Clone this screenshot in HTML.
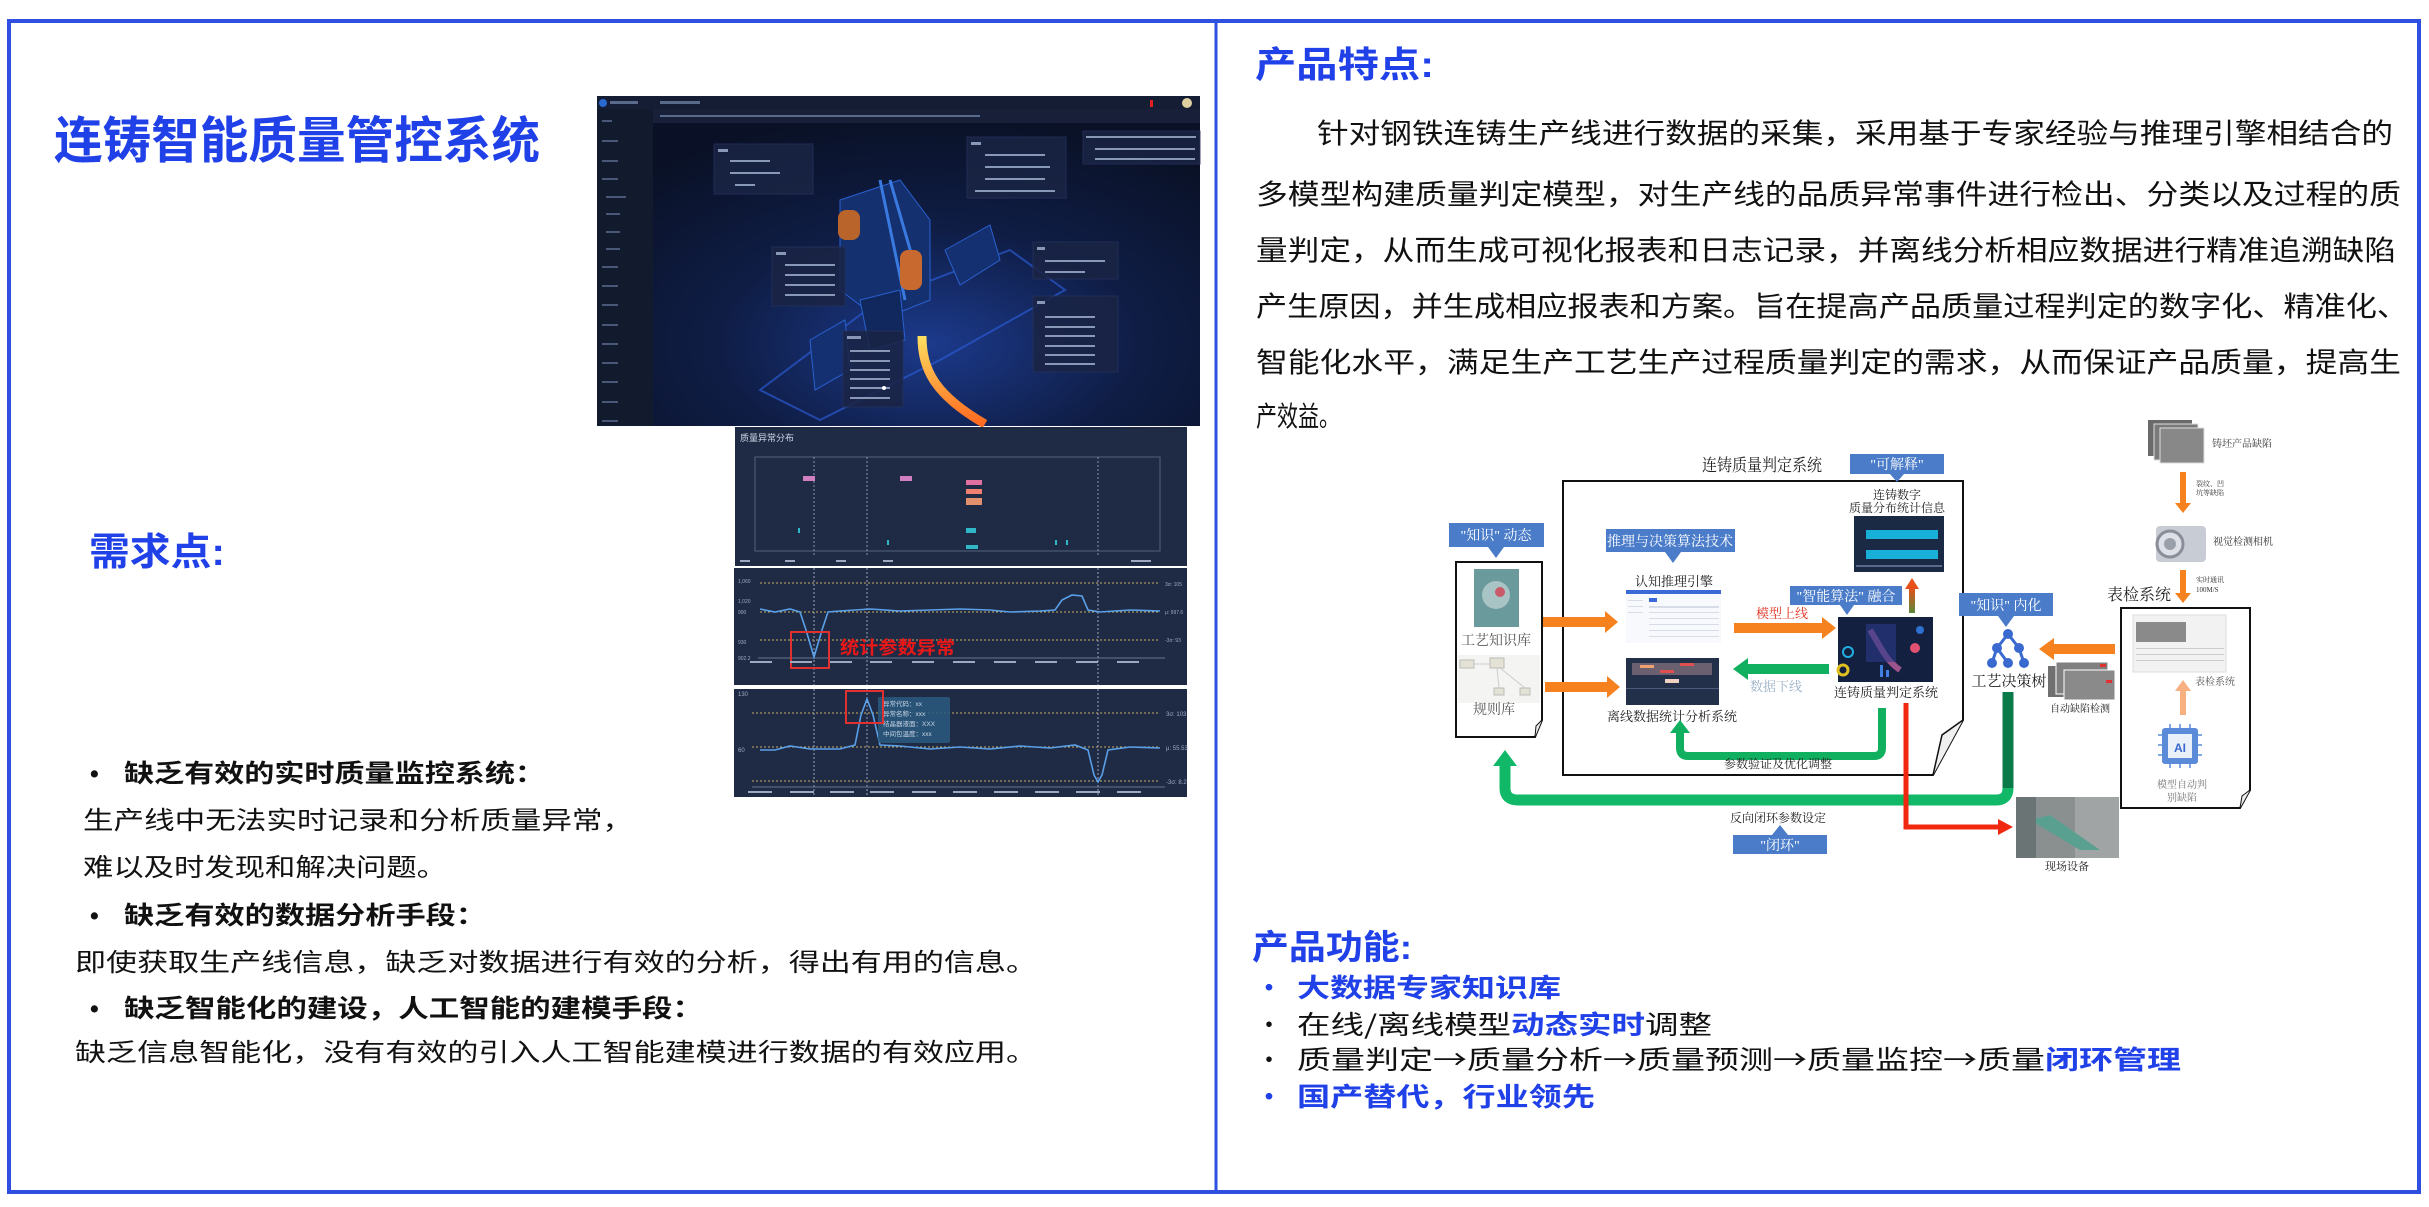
<!DOCTYPE html>
<html><head><meta charset="utf-8">
<style>
html,body{margin:0;padding:0;background:#fff;}
body{width:2429px;height:1207px;overflow:hidden;}
svg{display:block;}
.cn{font-family:"Liberation Sans","Noto Sans CJK SC",sans-serif;}
.sf{font-family:"Liberation Serif","Noto Serif CJK SC",serif;}
.cjk{font-family:"Noto Sans CJK SC",sans-serif;}
</style></head><body>
<svg width="2429" height="1207" viewBox="0 0 2429 1207" xmlns="http://www.w3.org/2000/svg">
<defs>
 <radialGradient id="dbg" cx="0.55" cy="0.75" r="0.7">
  <stop offset="0" stop-color="#1c3a8c"/><stop offset="0.5" stop-color="#0f1d45"/><stop offset="1" stop-color="#0a1126"/>
 </radialGradient>
 <linearGradient id="strand" x1="0" y1="0" x2="0" y2="1"><stop offset="0" stop-color="#ffe060"/><stop offset="1" stop-color="#ff6a20"/></linearGradient>
 <linearGradient id="upar" x1="0" y1="1" x2="0" y2="0"><stop offset="0" stop-color="#5a8a3a"/><stop offset="1" stop-color="#e8501a"/></linearGradient>
</defs>

<rect x="9" y="21" width="2410" height="1171" fill="none" stroke="#2f4fe0" stroke-width="4"/>
<line x1="1216" y1="21" x2="1216" y2="1192" stroke="#2f4fe0" stroke-width="3"/>

<text class="cn" x="54" y="158" font-size="50" font-weight="bold" fill="#2040e8" textLength="486" lengthAdjust="spacingAndGlyphs">连铸智能质量管控系统</text>

<g>
 <rect x="597" y="96" width="603" height="330" fill="url(#dbg)"/>
 <rect x="597" y="96" width="56" height="330" fill="#121a2e"/>
 <rect x="597" y="96" width="603" height="13" fill="#141d33"/>
 <rect x="653" y="109" width="547" height="14" fill="#172038"/>
 <circle cx="603" cy="103" r="4" fill="#2a6ad0"/>
 <g fill="#5a6a8a">
  <rect x="610" y="101" width="28" height="3"/>
  <rect x="660" y="101" width="40" height="3"/>
  <rect x="660" y="115" width="320" height="2"/>
 </g>
 <rect x="1150" y="100" width="3" height="7" fill="#e02020"/>
 <circle cx="1187" cy="103" r="5" fill="#e0d0a0"/>
 <g fill="#4a5878">
  <rect x="602" y="120" width="10" height="2"/><rect x="602" y="140" width="16" height="2"/><rect x="602" y="160" width="16" height="2"/>
  <rect x="602" y="178" width="16" height="2"/><rect x="606" y="196" width="20" height="2"/><rect x="606" y="213" width="14" height="2"/>
  <rect x="606" y="231" width="14" height="2"/><rect x="606" y="248" width="14" height="2"/><rect x="602" y="266" width="16" height="2"/>
  <rect x="602" y="285" width="16" height="2"/><rect x="602" y="304" width="16" height="2"/><rect x="602" y="324" width="16" height="2"/>
  <rect x="602" y="343" width="16" height="2"/><rect x="602" y="362" width="16" height="2"/><rect x="602" y="381" width="16" height="2"/>
  <rect x="602" y="401" width="16" height="2"/><rect x="602" y="420" width="16" height="2"/>
 </g>
 <polygon points="760,390 880,300 1010,250 1065,290 940,360 820,420" fill="none" stroke="#2a5ad0" stroke-width="2" opacity="0.7"/>
 <polygon points="840,200 900,180 930,220 930,300 880,320 840,290" fill="#14306e" stroke="#2a60d0"/>
 <polygon points="860,300 900,290 905,340 870,350" fill="#10285e" stroke="#2a60d0"/>
 <line x1="880" y1="180" x2="905" y2="300" stroke="#3a7ae0" stroke-width="3"/>
 <line x1="890" y1="180" x2="916" y2="270" stroke="#3a7ae0" stroke-width="3"/>
 <rect x="838" y="210" width="22" height="30" rx="8" fill="#b8642a"/>
 <rect x="900" y="250" width="22" height="40" rx="8" fill="#c86a30"/>
 <polygon points="945,250 990,225 1000,260 960,285" fill="#143070" stroke="#2a60d0"/>
 <polygon points="810,340 845,320 850,370 815,390" fill="#143070" stroke="#2a60d0"/>
 <path d="M922,336 C922,370 935,395 985,424" fill="none" stroke="url(#strand)" stroke-width="9"/>
 <g fill="#1a2444" opacity="0.85" stroke="#24305a">
  <rect x="714" y="144" width="99" height="50"/>
  <rect x="967" y="137" width="99" height="61"/>
  <rect x="1083" y="131" width="117" height="33"/>
  <rect x="772" y="247" width="73" height="59"/>
  <rect x="1033" y="242" width="85" height="37"/>
  <rect x="1033" y="296" width="85" height="76"/>
  <rect x="843" y="331" width="60" height="76"/>
 </g>
 <g fill="#8a98b8">
  <rect x="718" y="149" width="10" height="3"/><rect x="730" y="160" width="40" height="2"/><rect x="730" y="172" width="50" height="2"/><rect x="735" y="184" width="20" height="2"/>
  <rect x="971" y="142" width="10" height="3"/><rect x="985" y="154" width="60" height="2"/><rect x="985" y="166" width="65" height="2"/><rect x="985" y="178" width="60" height="2"/><rect x="975" y="190" width="80" height="2"/>
  <rect x="1086" y="136" width="110" height="2"/><rect x="1095" y="148" width="100" height="2"/><rect x="1095" y="158" width="100" height="2"/>
  <rect x="776" y="252" width="10" height="3"/><rect x="785" y="264" width="50" height="2"/><rect x="785" y="274" width="50" height="2"/><rect x="785" y="284" width="50" height="2"/><rect x="785" y="294" width="50" height="2"/>
  <rect x="1037" y="247" width="8" height="3"/><rect x="1045" y="260" width="60" height="2"/><rect x="1045" y="271" width="40" height="2"/>
  <rect x="1037" y="301" width="8" height="3"/><rect x="1045" y="316" width="50" height="2"/><rect x="1045" y="326" width="50" height="2"/><rect x="1045" y="335" width="50" height="2"/><rect x="1045" y="345" width="50" height="2"/><rect x="1045" y="354" width="50" height="2"/><rect x="1045" y="363" width="50" height="2"/>
  <rect x="847" y="336" width="14" height="3"/><rect x="850" y="350" width="40" height="2"/><rect x="850" y="360" width="40" height="2"/><rect x="850" y="369" width="40" height="2"/><rect x="850" y="378" width="40" height="2"/><rect x="850" y="387" width="40" height="2"/><rect x="850" y="397" width="40" height="2"/>
 </g>
 <circle cx="884" cy="388" r="2" fill="#fff"/>
</g>

<g>
 <rect x="735" y="427" width="452" height="139" fill="#1f2a44"/>
 <text class="cn" x="740" y="441" font-size="9" fill="#d0d8e8">质量异常分布</text>
 <rect x="755" y="457" width="405" height="94" fill="none" stroke="#55617d"/>
 <g stroke="#8a94aa" stroke-dasharray="2,2"><line x1="814" y1="457" x2="814" y2="556"/><line x1="867" y1="457" x2="867" y2="556"/><line x1="1098" y1="457" x2="1098" y2="556"/></g>
 <rect x="803" y="476" width="12" height="5" fill="#d080c0"/>
 <rect x="900" y="476" width="12" height="5" fill="#d080c0"/>
 <rect x="966" y="480" width="16" height="5" fill="#e070a0"/>
 <rect x="966" y="489" width="16" height="5" fill="#f08070"/>
 <rect x="966" y="498" width="16" height="7" fill="#e0906a"/>
 <g fill="#30b8c8"><rect x="798" y="528" width="2" height="5"/><rect x="966" y="528" width="10" height="5"/><rect x="966" y="545" width="12" height="4"/><rect x="887" y="540" width="2" height="5"/><rect x="1055" y="540" width="2" height="5"/><rect x="1066" y="540" width="2" height="5"/></g>
 <g fill="#a0a8c0"><rect x="740" y="560" width="10" height="2"/><rect x="785" y="560" width="10" height="2"/><rect x="836" y="560" width="10" height="2"/><rect x="883" y="560" width="10" height="2"/><rect x="1131" y="560" width="20" height="2"/></g>
</g>

<g>
 <rect x="734" y="568" width="453" height="117" fill="#1f2a44"/>
 <g stroke="#c8b060" stroke-dasharray="2,2" stroke-width="1"><line x1="760" y1="583" x2="1160" y2="583"/><line x1="760" y1="612" x2="1160" y2="612"/><line x1="760" y1="640" x2="1160" y2="640"/></g>
 <g stroke="#9aa2b8" stroke-dasharray="2,2"><line x1="814" y1="568" x2="814" y2="685"/><line x1="867" y1="568" x2="867" y2="685"/><line x1="1098" y1="568" x2="1098" y2="685"/></g>
 <line x1="758" y1="658" x2="1165" y2="658" stroke="#6a7490"/>
 <polyline fill="none" stroke="#5aa0e8" stroke-width="1.6" points="760,609 775,612 790,609 800,612 806,630 814,657 822,630 828,612 840,611 870,609 900,611 930,610 960,609 990,610 1010,612 1040,611 1055,610 1062,600 1072,595 1082,596 1088,610 1100,612 1130,610 1160,611"/>
 <rect x="791" y="632" width="38" height="36" fill="none" stroke="#e03030" stroke-width="2"/>
 <text class="cjk" x="840" y="654" font-size="18" font-weight="bold" fill="#e81818" textLength="115" lengthAdjust="spacingAndGlyphs">统计参数异常</text>
 <g fill="#a0a8c0" font-size="5" class="cn"><text x="738" y="583">1,060</text><text x="738" y="603">1,020</text><text x="738" y="614">990</text><text x="738" y="644">930</text><text x="738" y="660">902.2</text><text x="1165" y="586">3σ: 105</text><text x="1165" y="614">μ: 997.6</text><text x="1165" y="642">-3σ: 93</text></g>
 <g fill="#a0a8c0"><rect x="750" y="661" width="22" height="2"/><rect x="790" y="661" width="22" height="2"/><rect x="830" y="661" width="22" height="2"/><rect x="870" y="661" width="22" height="2"/><rect x="912" y="661" width="22" height="2"/><rect x="953" y="661" width="22" height="2"/><rect x="994" y="661" width="22" height="2"/><rect x="1035" y="661" width="22" height="2"/><rect x="1076" y="661" width="22" height="2"/><rect x="1117" y="661" width="22" height="2"/></g>
</g>

<g>
 <rect x="734" y="689" width="453" height="108" fill="#1f2a44"/>
 <g stroke="#c8b060" stroke-dasharray="2,2"><line x1="752" y1="713" x2="1160" y2="713"/><line x1="752" y1="747" x2="1160" y2="747"/><line x1="752" y1="781" x2="1160" y2="781"/></g>
 <g stroke="#9aa2b8" stroke-dasharray="2,2"><line x1="814" y1="689" x2="814" y2="797"/><line x1="867" y1="689" x2="867" y2="797"/><line x1="1098" y1="689" x2="1098" y2="797"/></g>
 <line x1="752" y1="787" x2="1165" y2="787" stroke="#6a7490"/>
 <polyline fill="none" stroke="#5aa0e8" stroke-width="1.6" points="760,750 775,750 790,746 810,749 840,749 855,745 861,715 867,699 873,715 880,745 900,746 930,749 960,747 990,749 1020,746 1050,748 1075,745 1088,750 1094,775 1098,782 1102,775 1108,750 1130,747 1160,748"/>
 <rect x="878" y="697" width="72" height="46" rx="2" fill="#2a5a80" opacity="0.85"/>
 <g class="cn" font-size="6.5" fill="#c8d4e4"><text x="883" y="706">异常代码：xx</text><text x="883" y="716">异常名称：xxx</text><text x="883" y="726">结晶器液面：XXX</text><text x="883" y="736">中间包温度：xxx</text></g>
 <rect x="846" y="691" width="37" height="32" fill="none" stroke="#e03030" stroke-width="2"/>
 <g fill="#a0a8c0" font-size="6" class="cn"><text x="1166" y="716">3σ: 103</text><text x="1166" y="750">μ: 55.53</text><text x="1166" y="784">-3σ: 8.2</text><text x="738" y="696">130</text><text x="738" y="752">60</text></g>
 <g fill="#a0a8c0"><rect x="748" y="791" width="24" height="2"/><rect x="790" y="791" width="24" height="2"/><rect x="830" y="791" width="24" height="2"/><rect x="870" y="791" width="24" height="2"/><rect x="912" y="791" width="24" height="2"/><rect x="953" y="791" width="24" height="2"/><rect x="994" y="791" width="24" height="2"/><rect x="1035" y="791" width="24" height="2"/><rect x="1076" y="791" width="24" height="2"/><rect x="1117" y="791" width="24" height="2"/></g>
</g>

<text class="cn" x="89" y="565" font-size="38" font-weight="bold" fill="#2040e8" textLength="136" lengthAdjust="spacingAndGlyphs">需求点:</text>

<g class="cn" font-size="25" fill="#111">
 <text x="90" y="782" font-weight="bold">•</text>
 <text x="124" y="782" font-weight="bold" textLength="421" lengthAdjust="spacingAndGlyphs">缺乏有效的实时质量监控系统：</text>
 <text x="83" y="829" textLength="550" lengthAdjust="spacingAndGlyphs">生产线中无法实时记录和分析质量异常，</text>
 <text x="83" y="876" textLength="364" lengthAdjust="spacingAndGlyphs">难以及时发现和解决问题。</text>
 <text x="90" y="924" font-weight="bold">•</text>
 <text x="124" y="924" font-weight="bold" textLength="362" lengthAdjust="spacingAndGlyphs">缺乏有效的数据分析手段：</text>
 <text x="75" y="971" textLength="962" lengthAdjust="spacingAndGlyphs">即使获取生产线信息，缺乏对数据进行有效的分析，得出有用的信息。</text>
 <text x="90" y="1017" font-weight="bold">•</text>
 <text x="124" y="1017" font-weight="bold" textLength="579" lengthAdjust="spacingAndGlyphs">缺乏智能化的建设，人工智能的建模手段：</text>
 <text x="75" y="1061" textLength="962" lengthAdjust="spacingAndGlyphs">缺乏信息智能化，没有有效的引入人工智能建模进行数据的有效应用。</text>
</g>

<text class="cn" x="1255" y="77" font-size="36" font-weight="bold" fill="#2040e8" textLength="179" lengthAdjust="spacingAndGlyphs">产品特点:</text>
<g class="cn" font-size="28" fill="#111">
 <text x="1317" y="143" textLength="1076" lengthAdjust="spacingAndGlyphs">针对钢铁连铸生产线进行数据的采集，采用基于专家经验与推理引擎相结合的</text>
 <text x="1256" y="204" textLength="1145" lengthAdjust="spacingAndGlyphs">多模型构建质量判定模型，对生产线的品质异常事件进行检出、分类以及过程的质</text>
 <text x="1256" y="260" textLength="1140" lengthAdjust="spacingAndGlyphs">量判定，从而生成可视化报表和日志记录，并离线分析相应数据进行精准追溯缺陷</text>
 <text x="1256" y="316" textLength="1152" lengthAdjust="spacingAndGlyphs">产生原因，并生成相应报表和方案。旨在提高产品质量过程判定的数字化、精准化、</text>
 <text x="1256" y="372" textLength="1145" lengthAdjust="spacingAndGlyphs">智能化水平，满足生产工艺生产过程质量判定的需求，从而保证产品质量，提高生</text>
 <text x="1256" y="426" textLength="84" lengthAdjust="spacingAndGlyphs">产效益。</text>
</g>

<g class="sf">
 <text x="1702" y="471" font-size="17" fill="#222" textLength="120" lengthAdjust="spacingAndGlyphs">连铸质量判定系统</text>
 <path d="M1563,481 L1963,481 L1963,720 L1933,775 L1563,775 Z" fill="#fff" stroke="#111" stroke-width="2"/>
 <path d="M1963,720 L1942,735 L1933,775" fill="#f0f0f0" stroke="#111" stroke-width="1.5"/>

 <g fill="#4a7cc9">
  <rect x="1850" y="454" width="94" height="20"/><polygon points="1890,474 1904,474 1897,482"/>
  <rect x="1449" y="523" width="95" height="24"/><polygon points="1488,547 1504,547 1496,558"/>
  <rect x="1606" y="529" width="129" height="23"/><polygon points="1665,552 1681,552 1673,563"/>
  <rect x="1790" y="586" width="112" height="19"/><polygon points="1840,605 1854,605 1847,615"/>
  <rect x="1959" y="593" width="94" height="23"/><polygon points="1998,616 2014,616 2006,627"/>
  <rect x="1733" y="835" width="94" height="19"/><polygon points="1772,835 1788,835 1780,825"/>
 </g>
 <g fill="#fff" font-size="14" text-anchor="middle">
  <text x="1897" y="469">"可解释"</text>
  <text x="1496" y="540">"知识" 动态</text>
  <text x="1670" y="546">推理与决策算法技术</text>
  <text x="1846" y="601">"智能算法" 融合</text>
  <text x="2006" y="610">"知识" 内化</text>
  <text x="1780" y="850">"闭环"</text>
 </g>

 <path d="M1456,562 L1542,562 L1542,720 L1535,737 L1456,737 Z" fill="#fff" stroke="#111" stroke-width="2"/>
 <path d="M1542,720 L1536,726 L1535,737" fill="#eee" stroke="#111"/>
 <rect x="1474" y="569" width="45" height="58" fill="#6a9a9c"/>
 <circle cx="1496" cy="595" r="14" fill="#a8c4c4"/><circle cx="1500" cy="592" r="5" fill="#c85a6a"/>
 <text x="1496" y="645" font-size="14" fill="#555" text-anchor="middle">工艺知识库</text>
 <rect x="1458" y="655" width="82" height="48" fill="#f4f4f2"/>
 <g fill="#e4e2d4" stroke="#bbb"><rect x="1460" y="660" width="14" height="8"/><rect x="1490" y="658" width="14" height="10"/><rect x="1494" y="688" width="10" height="7"/><rect x="1520" y="688" width="10" height="7"/></g>
 <g stroke="#ccc"><line x1="1474" y1="664" x2="1490" y2="664"/><line x1="1497" y1="668" x2="1499" y2="688"/><line x1="1500" y1="668" x2="1525" y2="688"/></g>
 <text x="1494" y="714" font-size="14" fill="#555" text-anchor="middle">规则库</text>

 <text x="1674" y="586" font-size="13" fill="#222" text-anchor="middle">认知推理引擎</text>
 <rect x="1626" y="590" width="95" height="53" fill="#f8f9fc"/>
 <rect x="1626" y="590" width="95" height="4" fill="#3a6ad8"/>
 <rect x="1649" y="598" width="8" height="4" fill="#3a6ad8"/>
 <g fill="#d8dce6"><rect x="1649" y="606" width="70" height="2"/><rect x="1649" y="612" width="70" height="1"/><rect x="1649" y="618" width="70" height="1"/><rect x="1649" y="624" width="70" height="1"/><rect x="1649" y="630" width="70" height="1"/><rect x="1649" y="636" width="70" height="1"/><rect x="1628" y="600" width="15" height="1"/><rect x="1628" y="606" width="15" height="1"/><rect x="1628" y="612" width="15" height="1"/></g>

 <rect x="1626" y="658" width="93" height="47" fill="#22304a"/>
 <rect x="1632" y="663" width="80" height="12" fill="#6a6070"/>
 <rect x="1640" y="665" width="14" height="3" fill="#f0a070"/><rect x="1680" y="663" width="14" height="3" fill="#e05050"/><rect x="1660" y="670" width="14" height="3" fill="#e05050"/>
 <rect x="1665" y="679" width="14" height="4" fill="#f0d0c0"/>
 <rect x="1626" y="688" width="93" height="1" fill="#4a5a7a"/>
 <text x="1672" y="721" font-size="13" fill="#222" text-anchor="middle">离线数据统计分析系统</text>

 <g fill="#f5821f">
  <polygon points="1543,617 1605,617 1605,611 1618,622 1605,633 1605,627 1543,627"/>
  <polygon points="1545,682 1607,682 1607,676 1620,687 1607,698 1607,692 1545,692"/>
  <polygon points="1734,623 1822,623 1822,617 1836,628 1822,639 1822,633 1734,633"/>
 </g>
 <text x="1756" y="618" font-size="13" fill="#e03020">模型上线</text>
 <rect x="1909" y="588" width="6" height="25" fill="url(#upar)"/><polygon points="1905,589 1919,589 1912,578" fill="#e8501a"/>

 <text x="1897" y="499" font-size="12" fill="#222" text-anchor="middle">连铸数字</text>
 <text x="1897" y="512" font-size="12" fill="#222" text-anchor="middle">质量分布统计信息</text>
 <rect x="1854" y="516" width="90" height="56" fill="#1a2a44"/>
 <rect x="1866" y="530" width="72" height="9" fill="#18b0d8"/>
 <rect x="1866" y="550" width="72" height="9" fill="#18b0d8"/>
 <rect x="1856" y="565" width="86" height="2" fill="#5a6a8a"/>

 <rect x="1838" y="617" width="95" height="65" fill="#142040"/>
 <path d="M1870,630 C1880,645 1885,660 1900,670" stroke="#c060a0" stroke-width="6" fill="none" opacity="0.8"/>
 <rect x="1866" y="624" width="30" height="38" fill="#2a3a8a" opacity="0.6"/>
 <circle cx="1848" cy="652" r="5" fill="none" stroke="#20b0e0" stroke-width="2"/>
 <circle cx="1843" cy="670" r="5" fill="none" stroke="#e0c020" stroke-width="3"/>
 <rect x="1880" y="665" width="3" height="12" fill="#4080e0"/><rect x="1886" y="670" width="3" height="7" fill="#4080e0"/>
 <circle cx="1920" cy="630" r="4" fill="#3070d0"/><circle cx="1915" cy="648" r="5" fill="#e05070"/>

 <polygon points="1829,664 1748,664 1748,658 1733,669 1748,680 1748,674 1829,674" fill="#10b060"/>
 <text x="1776" y="691" font-size="13" fill="#9ab0c8" text-anchor="middle">数据下线</text>
 <text x="1886" y="697" font-size="13" fill="#222" text-anchor="middle">连铸质量判定系统</text>

 <path d="M1882,708 L1882,748 Q1882,756 1874,756 L1688,756 Q1680,756 1680,748 L1680,731" fill="none" stroke="#10b060" stroke-width="8"/>
 <polygon points="1670,733 1690,733 1680,720" fill="#10b060"/>
 <text x="1778" y="768" font-size="12" fill="#222" text-anchor="middle">参数验证及优化调整</text>

 <path d="M2008,692 L2008,788 Q2008,800 1996,800 L1518,800 Q1505,800 1505,788 L1505,765" fill="none" stroke="#10b868" stroke-width="11"/>
 <path d="M2008,692 L2008,788" stroke="#0a7a4a" stroke-width="11"/>
 <polygon points="1493,766 1517,766 1505,750" fill="#10b868"/>
 <text x="1778" y="822" font-size="12" fill="#222" text-anchor="middle">反向闭环参数设定</text>

 <path d="M1906,703 L1906,827 L2000,827" fill="none" stroke="#f02810" stroke-width="5"/>
 <polygon points="1998,819 2013,827 1998,835" fill="#f02810"/>

 <g fill="#3a6ad0">
  <circle cx="2008" cy="634" r="5"/><circle cx="1997" cy="648" r="5"/><circle cx="2019" cy="648" r="5"/><circle cx="1992" cy="663" r="5"/><circle cx="2008" cy="663" r="5"/><circle cx="2024" cy="663" r="5"/>
 </g>
 <g stroke="#3a6ad0" stroke-width="3"><line x1="2008" y1="634" x2="1997" y2="648"/><line x1="2008" y1="634" x2="2019" y2="648"/><line x1="1997" y1="648" x2="1992" y2="663"/><line x1="1997" y1="648" x2="2008" y2="663"/><line x1="2019" y1="648" x2="2024" y2="663"/></g>
 <text x="2009" y="686" font-size="15" fill="#222" text-anchor="middle">工艺决策树</text>

 <polygon points="2115,644 2054,644 2054,638 2039,649 2054,660 2054,654 2115,654" fill="#f5821f"/>
 <g><rect x="2048" y="666" width="50" height="31" fill="#707070"/><rect x="2056" y="662" width="52" height="32" fill="#808080" stroke="#fff"/><rect x="2064" y="670" width="51" height="30" fill="#8a8a8a" stroke="#fff"/><rect x="2100" y="664" width="6" height="3" fill="#e03030"/><rect x="2106" y="680" width="6" height="3" fill="#e03030"/></g>
 <text x="2080" y="712" font-size="10" fill="#222" text-anchor="middle">自动缺陷检测</text>
 <text x="2139" y="600" font-size="16" fill="#222" text-anchor="middle">表检系统</text>
 <path d="M2121,608 L2250,608 L2250,790 L2240,808 L2121,808 Z" fill="#fff" stroke="#111" stroke-width="2"/>
 <path d="M2250,790 L2242,796 L2240,808" fill="#eee" stroke="#111"/>
 <rect x="2133" y="615" width="93" height="57" fill="#f2f2f2" stroke="#ddd"/>
 <rect x="2136" y="622" width="50" height="20" fill="#8a8a8a"/>
 <g fill="#ccc"><rect x="2136" y="648" width="88" height="1"/><rect x="2136" y="654" width="88" height="1"/><rect x="2136" y="660" width="88" height="1"/></g>
 <text x="2215" y="685" font-size="10" fill="#555" text-anchor="middle">表检系统</text>
 <rect x="2180" y="690" width="6" height="25" fill="#f8b080"/><polygon points="2175,691 2191,691 2183,680" fill="#f8b080"/>
 <rect x="2162" y="728" width="36" height="36" rx="3" fill="#5a8ad8"/>
 <rect x="2168" y="734" width="24" height="24" fill="#eaf0fa"/>
 <text x="2180" y="752" font-size="12" font-weight="bold" fill="#3a6ad0" text-anchor="middle" class="cn">AI</text>
 <g stroke="#5a8ad8" stroke-width="1.5"><line x1="2158" y1="735" x2="2162" y2="735"/><line x1="2158" y1="745" x2="2162" y2="745"/><line x1="2158" y1="755" x2="2162" y2="755"/><line x1="2198" y1="735" x2="2202" y2="735"/><line x1="2198" y1="745" x2="2202" y2="745"/><line x1="2198" y1="755" x2="2202" y2="755"/><line x1="2170" y1="724" x2="2170" y2="728"/><line x1="2180" y1="724" x2="2180" y2="728"/><line x1="2190" y1="724" x2="2190" y2="728"/><line x1="2170" y1="764" x2="2170" y2="768"/><line x1="2180" y1="764" x2="2180" y2="768"/><line x1="2190" y1="764" x2="2190" y2="768"/></g>
 <text x="2182" y="788" font-size="10" fill="#777" text-anchor="middle">模型自动判</text>
 <text x="2182" y="801" font-size="10" fill="#777" text-anchor="middle">别缺陷</text>

 <rect x="2148" y="420" width="44" height="36" fill="#6a6a6a"/><rect x="2154" y="424" width="44" height="36" fill="#7a7a7a" stroke="#ddd"/><rect x="2160" y="428" width="44" height="35" fill="#888" stroke="#ddd"/>
 <text x="2242" y="447" font-size="10" fill="#333" text-anchor="middle">铸坯产品缺陷</text>
 <rect x="2180" y="472" width="6" height="32" fill="#f5821f"/><polygon points="2175,503 2191,503 2183,513" fill="#f5821f"/>
 <text x="2196" y="486" font-size="7" fill="#333">裂纹、凹</text><text x="2196" y="495" font-size="7" fill="#333">坑等缺陷</text>
 <rect x="2156" y="526" width="50" height="36" rx="4" fill="#c8ccd4"/>
 <circle cx="2170" cy="544" r="13" fill="#dde0e6" stroke="#8a8e98" stroke-width="3"/>
 <circle cx="2170" cy="544" r="6" fill="#9aa0aa"/>
 <text x="2243" y="545" font-size="10" fill="#333" text-anchor="middle">视觉检测相机</text>
 <rect x="2180" y="570" width="6" height="24" fill="#f5821f"/><polygon points="2175,593 2191,593 2183,603" fill="#f5821f"/>
 <text x="2196" y="582" font-size="7" fill="#333">实时通讯</text><text x="2196" y="592" font-size="7" fill="#333">100M/S</text>

 <rect x="2016" y="797" width="103" height="61" fill="#8a9090"/>
 <rect x="2075" y="797" width="44" height="61" fill="#a0a4a4"/>
 <path d="M2030,820 L2080,850 L2100,850 L2050,815 Z" fill="#5aa090"/>
 <rect x="2016" y="797" width="20" height="61" fill="#6a7474"/>
 <text x="2067" y="870" font-size="11" fill="#222" text-anchor="middle">现场设备</text>
</g>

<text class="cn" x="1252" y="959" font-size="34" font-weight="bold" fill="#2040e8" textLength="160" lengthAdjust="spacingAndGlyphs">产品功能:</text>
<g class="cjk" font-size="26">
 <text x="1256" y="997" fill="#2040e8" font-weight="bold">•</text>
 <text x="1297" y="997" fill="#2040e8" font-weight="bold" textLength="264" lengthAdjust="spacingAndGlyphs">大数据专家知识库</text>
 <text x="1256" y="1034" fill="#111">•</text>
 <text x="1297" y="1034" fill="#111" textLength="415" lengthAdjust="spacingAndGlyphs">在线/离线模型<tspan fill="#2040e8" font-weight="bold">动态实时</tspan>调整</text>
 <text x="1256" y="1069" fill="#111">•</text>
 <text x="1297" y="1069" fill="#111" textLength="884" lengthAdjust="spacingAndGlyphs">质量判定→质量分析→质量预测→质量监控→质量<tspan fill="#2040e8" font-weight="bold">闭环管理</tspan></text>
 <text x="1256" y="1106" fill="#2040e8" font-weight="bold">•</text>
 <text x="1297" y="1106" fill="#2040e8" font-weight="bold" textLength="298" lengthAdjust="spacingAndGlyphs">国产替代，行业领先</text>
</g>
</svg>
</body></html>
